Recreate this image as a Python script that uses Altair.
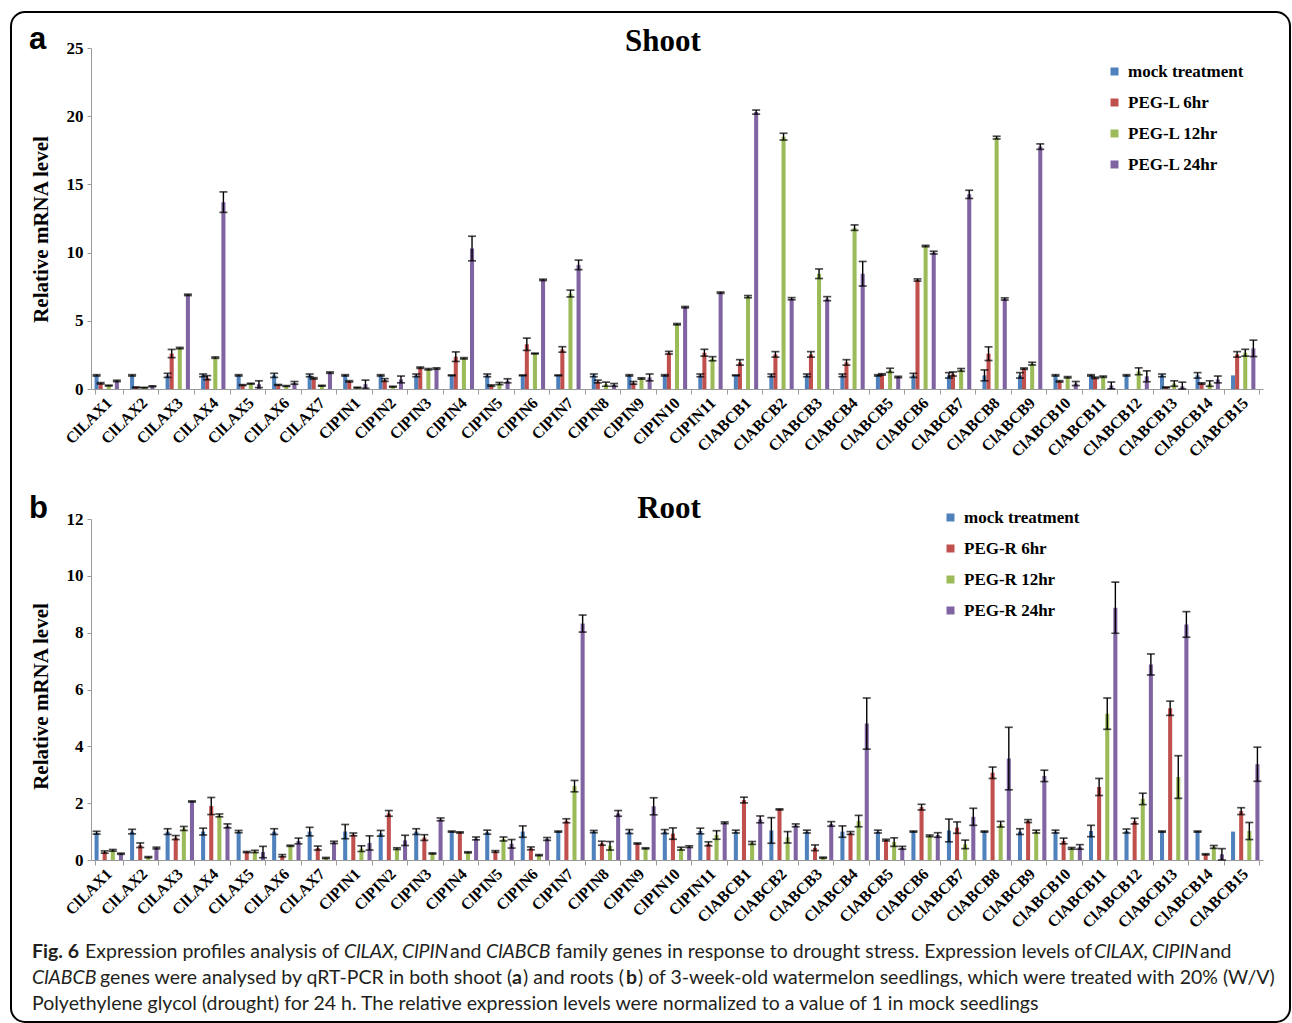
import altair as alt
import pandas as pd

# Gene names on the x axis
genes = [
    "ClLAX1", "ClLAX2", "ClLAX3", "ClLAX4", "ClLAX5", "ClLAX6", "ClLAX7",
    "ClPIN1", "ClPIN2", "ClPIN3", "ClPIN4", "ClPIN5", "ClPIN6", "ClPIN7",
    "ClPIN8", "ClPIN9", "ClPIN10", "ClPIN11",
    "ClABCB1", "ClABCB2", "ClABCB3", "ClABCB4", "ClABCB5", "ClABCB6", "ClABCB7",
    "ClABCB8", "ClABCB9", "ClABCB10", "ClABCB11", "ClABCB12", "ClABCB13",
    "ClABCB14", "ClABCB15",
]

shoot_series = ["mock treatment", "PEG-L 6hr", "PEG-L 12hr", "PEG-L 24hr"]
root_series = ["mock treatment", "PEG-R 6hr", "PEG-R 12hr", "PEG-R 24hr"]
colors = ["#4F81BD", "#C0504D", "#9BBB59", "#8064A2"]

# ---- Shoot (a): relative mRNA level and error ----
shoot_mock = [1.0] * 33
shoot_mock_err = [0.05, 0.05, 0.15, 0.1, 0.05, 0.15, 0.1, 0.05, 0.05, 0.1, 0.03,
                  0.1, 0.03, 0.03, 0.1, 0.05, 0.05, 0.1, 0.03, 0.1, 0.1, 0.1,
                  0.05, 0.15, 0.2, 0.4, 0.2, 0.05, 0.05, 0.05, 0.1, 0.2, 0.0]
shoot_6h = [0.42, 0.12, 2.6, 0.83, 0.29, 0.3, 0.78, 0.56, 0.66, 1.56, 2.37,
            0.25, 3.28, 2.9, 0.55, 0.45, 2.66, 2.66, 1.95, 2.54, 2.54, 1.95,
            1.07, 7.99, 1.1, 2.59, 1.49, 0.56, 0.82, 0.0, 0.12, 0.4, 2.54]
shoot_6h_err = [0.05, 0.03, 0.3, 0.15, 0.03, 0.03, 0.05, 0.05, 0.1, 0.05, 0.35,
                0.05, 0.45, 0.2, 0.1, 0.1, 0.1, 0.25, 0.2, 0.2, 0.2, 0.2,
                0.05, 0.08, 0.15, 0.5, 0.05, 0.05, 0.05, 0.0, 0.03, 0.05, 0.2]
shoot_12h = [0.25, 0.1, 3.0, 2.3, 0.39, 0.22, 0.24, 0.1, 0.17, 1.45, 2.25,
             0.4, 2.6, 7.0, 0.35, 0.77, 4.75, 2.22, 6.77, 18.5, 8.45, 11.83,
             1.37, 10.48, 1.4, 18.43, 1.86, 0.86, 0.9, 1.3, 0.4, 0.4, 2.66]
shoot_12h_err = [0.03, 0.02, 0.05, 0.05, 0.03, 0.03, 0.03, 0.03, 0.03, 0.05, 0.05,
                 0.08, 0.03, 0.25, 0.15, 0.05, 0.05, 0.15, 0.08, 0.25, 0.35, 0.2,
                 0.15, 0.05, 0.1, 0.1, 0.1, 0.05, 0.05, 0.25, 0.2, 0.2, 0.25]
shoot_24h = [0.59, 0.2, 6.9, 13.7, 0.35, 0.45, 1.2, 0.35, 0.7, 1.5, 10.3,
             0.6, 8.0, 9.1, 0.3, 0.85, 6.0, 7.06, 20.3, 6.62, 6.62, 8.45,
             0.88, 10.0, 14.27, 6.6, 17.77, 0.4, 0.26, 0.93, 0.2, 0.7, 2.98]
shoot_24h_err = [0.05, 0.03, 0.05, 0.75, 0.25, 0.1, 0.05, 0.3, 0.25, 0.05, 0.9,
                 0.15, 0.05, 0.35, 0.1, 0.25, 0.05, 0.05, 0.15, 0.08, 0.15, 0.9,
                 0.05, 0.1, 0.3, 0.08, 0.2, 0.15, 0.25, 0.4, 0.3, 0.25, 0.6]

# ---- Root (b): relative mRNA level and error ----
root_mock = [0.96, 1.0, 1.0, 1.0, 1.0, 1.0, 1.0, 1.0, 0.94, 1.0, 1.0,
             0.98, 1.0, 1.0, 1.0, 1.0, 1.0, 1.02, 1.0, 1.04, 1.0, 1.0,
             1.0, 1.0, 1.04, 1.0, 1.0, 1.0, 1.02, 1.02, 1.0, 1.0, 1.0]
root_mock_err = [0.05, 0.08, 0.1, 0.12, 0.04, 0.1, 0.15, 0.25, 0.1, 0.1, 0.02,
                 0.07, 0.2, 0.02, 0.04, 0.07, 0.07, 0.1, 0.05, 0.45, 0.05, 0.2,
                 0.05, 0.02, 0.4, 0.02, 0.1, 0.05, 0.2, 0.07, 0.02, 0.02, 0.0]
root_6h = [0.28, 0.52, 0.79, 1.9, 0.28, 0.15, 0.42, 0.9, 1.64, 0.79, 0.97,
           0.3, 0.41, 1.38, 0.59, 0.58, 0.93, 0.57, 2.11, 1.78, 0.43, 0.95,
           0.7, 1.86, 1.14, 3.07, 1.37, 0.67, 2.57, 1.37, 5.34, 0.2, 1.72]
root_6h_err = [0.04, 0.08, 0.07, 0.3, 0.02, 0.04, 0.07, 0.05, 0.1, 0.1, 0.02,
               0.03, 0.05, 0.07, 0.07, 0.02, 0.2, 0.07, 0.1, 0.02, 0.1, 0.05,
               0.03, 0.1, 0.2, 0.2, 0.05, 0.1, 0.3, 0.1, 0.25, 0.02, 0.12]
root_12h = [0.34, 0.1, 1.11, 1.57, 0.3, 0.5, 0.07, 0.4, 0.4, 0.23, 0.27,
            0.74, 0.17, 2.6, 0.5, 0.41, 0.4, 0.88, 0.6, 0.8, 0.08, 1.37,
            0.63, 0.85, 0.55, 1.26, 1.0, 0.41, 5.15, 2.15, 2.92, 0.46, 1.02]
root_12h_err = [0.03, 0.02, 0.07, 0.05, 0.04, 0.02, 0.02, 0.1, 0.03, 0.02, 0.02,
                0.07, 0.02, 0.2, 0.15, 0.02, 0.05, 0.15, 0.05, 0.2, 0.02, 0.2,
                0.15, 0.03, 0.15, 0.1, 0.05, 0.03, 0.55, 0.2, 0.75, 0.05, 0.3]
root_24h = [0.22, 0.42, 2.06, 1.2, 0.28, 0.67, 0.62, 0.6, 0.69, 1.43, 0.76,
            0.57, 0.74, 8.32, 1.64, 1.89, 0.47, 1.31, 1.43, 1.22, 1.27, 4.8,
            0.43, 0.88, 1.52, 3.57, 2.96, 0.46, 8.88, 6.88, 8.29, 0.2, 3.37]
root_24h_err = [0.02, 0.03, 0.02, 0.07, 0.2, 0.1, 0.04, 0.25, 0.18, 0.05, 0.05,
                0.15, 0.05, 0.3, 0.1, 0.3, 0.03, 0.03, 0.12, 0.05, 0.08, 0.9,
                0.05, 0.08, 0.3, 1.1, 0.2, 0.08, 0.9, 0.37, 0.45, 0.2, 0.6]

# Figure caption, split into styled runs: (text, style, x, y) in page pixels
caption_runs = [
    ("Fig. 6", "bold", 31, 957),
    ("Expression profiles analysis of", "normal", 84, 957),
    ("ClLAX,", "italic", 343, 957),
    ("ClPIN", "italic", 401, 957),
    ("and", "normal", 449, 957),
    ("ClABCB", "italic", 485, 957),
    ("family genes in response to drought stress. Expression levels of", "normal", 555, 957),
    ("ClLAX,", "italic", 1093, 957),
    ("ClPIN", "italic", 1151, 957),
    ("and", "normal", 1199, 957),
    ("ClABCB", "italic", 31, 983),
    ("genes were analysed by qRT-PCR in both shoot (", "normal", 99, 983),
    ("a", "bold", 511, 983),
    (") and roots (", "normal", 522, 983),
    ("b", "bold", 625, 983),
    (") of 3-week-old watermelon seedlings, which were treated with 20% (W/V)", "normal", 637, 983),
    ("Polyethylene glycol (drought) for 24 h. The relative expression levels were "
     "normalized to a value of 1 in mock seedlings", "normal", 31, 1009),
]

SERIF = "Liberation Serif"
PLOT_W, PLOT_H = 1172, 341
LEFT, TOP_A = 90, 47
SPACING = 130
TOP_B = TOP_A + PLOT_H + SPACING
TOP_C = TOP_B + PLOT_H + SPACING


def long_table(series, values, errors):
    rows = []
    for s, vals, errs in zip(series, values, errors):
        for g, v, e in zip(genes, vals, errs):
            rows.append({"gene": g, "series": s, "value": v, "err": e})
    return pd.DataFrame(rows)


def panel(df, series, ymax, ystep, title_y, legend_x, legend_y,
          heading, heading_x, heading_y, letter, letter_y):
    x_axis = alt.Axis(
        title=None, labelAngle=-45, labelAlign="right", labelBaseline="middle",
        labelFont=SERIF, labelFontWeight="bold", labelFontSize=16,
        labelColor="black", labelPadding=6, tickBand="extent",
        domainColor="#9a9a9a", tickColor="#9a9a9a", tickSize=5,
    )
    y_axis = alt.Axis(
        values=list(range(0, ymax + 1, ystep)), grid=False,
        labelFont=SERIF, labelFontWeight="bold", labelFontSize=17,
        labelColor="black", labelPadding=4,
        domainColor="#9a9a9a", tickColor="#9a9a9a", tickSize=4,
        title="Relative mRNA level", titleFont=SERIF, titleFontWeight="bold",
        titleFontSize=21, titleColor="black", titleX=-44, titleY=title_y,
        titleBaseline="alphabetic", titleAngle=-90,
    )
    x = alt.X("gene:N", sort=genes, axis=x_axis,
              scale=alt.Scale(paddingInner=0.2, paddingOuter=0.1))
    xo = alt.XOffset("series:N", sort=series,
                     scale=alt.Scale(paddingInner=0, paddingOuter=0))
    yscale = alt.Scale(domain=[0, ymax], nice=False)

    base = alt.Chart(df)
    bars = base.mark_bar().encode(
        x=x, xOffset=xo,
        y=alt.Y("value:Q", scale=yscale, axis=y_axis),
        color=alt.Color(
            "series:N", sort=series,
            scale=alt.Scale(domain=series, range=colors),
            legend=alt.Legend(
                orient="none", legendX=legend_x, legendY=legend_y, title=None,
                symbolType="square", symbolSize=64, symbolStrokeWidth=0,
                labelFont=SERIF, labelFontWeight="bold", labelFontSize=17,
                labelColor="black", rowPadding=13, labelOffset=5,
            ),
        ),
    )
    errs = base.transform_filter("datum.err > 0").transform_calculate(
        lo="max(0, datum.value - datum.err)", hi="datum.value + datum.err"
    )
    stems = errs.mark_rule(color="black", strokeWidth=1.4).encode(
        x=x, xOffset=xo,
        y=alt.Y("lo:Q", scale=yscale, axis=y_axis), y2="hi:Q",
    )
    caps_lo = errs.mark_tick(color="black", size=8, thickness=1.7).encode(
        x=x, xOffset=xo, y=alt.Y("lo:Q", scale=yscale, axis=y_axis),
    )
    caps_hi = errs.mark_tick(color="black", size=8, thickness=1.7).encode(
        x=x, xOffset=xo, y=alt.Y("hi:Q", scale=yscale, axis=y_axis),
    )
    head = alt.Chart(pd.DataFrame({"t": [heading]})).mark_text(
        font=SERIF, fontWeight="bold", fontSize=31, align="center",
        baseline="alphabetic", color="black",
    ).encode(text="t:N", x=alt.value(heading_x), y=alt.value(heading_y))
    tag = alt.Chart(pd.DataFrame({"t": [letter]})).mark_text(
        font="Liberation Sans", fontWeight="bold", fontSize=31, align="left",
        baseline="alphabetic", color="black",
    ).encode(text="t:N", x=alt.value(28 - LEFT), y=alt.value(letter_y))
    return [bars, stems, caps_lo, caps_hi, head, tag]


shoot_df = long_table(
    shoot_series,
    [shoot_mock, shoot_6h, shoot_12h, shoot_24h],
    [shoot_mock_err, shoot_6h_err, shoot_12h_err, shoot_24h_err],
)
root_df = long_table(
    root_series,
    [root_mock, root_6h, root_12h, root_24h],
    [root_mock_err, root_6h_err, root_12h_err, root_24h_err],
)

# rounded frame around the whole figure
frame = alt.Chart(pd.DataFrame({"k": [0]})).mark_rect(
    fill="white", fillOpacity=0, stroke="black", strokeWidth=2, cornerRadius=14,
).encode(
    x=alt.value(10 - LEFT), x2=alt.value(1289 - LEFT),
    y=alt.value(11 - TOP_A), y2=alt.value(1021 - TOP_A),
)

layers_a = panel(shoot_df, shoot_series, 25, 5, 181, 1015, 15,
                 "Shoot", 662 - LEFT, 50 - TOP_A, "a", 48 - TOP_A)
chart_a = alt.layer(frame, *layers_a).properties(width=PLOT_W, height=PLOT_H)

layers_b = panel(root_df, root_series, 12, 2, 177, 851, -10,
                 "Root", 668 - LEFT, 517 - TOP_B, "b", 517 - TOP_B)
chart_b = alt.layer(*layers_b).properties(width=PLOT_W, height=PLOT_H)

cap_df = pd.DataFrame(
    [{"text": t, "style": s, "x": x - LEFT, "y": y - TOP_C}
     for t, s, x, y in caption_runs]
)
cap_base = alt.Chart(cap_df)
cap_enc = dict(
    x=alt.X("x:Q", scale=None, axis=None),
    y=alt.Y("y:Q", scale=None, axis=None),
    text="text:N",
)
CAP_FONT = "Lato"
CAP_SIZE = 19.5
CAP_COLOR = "#231f20"
cap_normal = cap_base.transform_filter("datum.style == 'normal'").mark_text(
    font=CAP_FONT, fontSize=CAP_SIZE, align="left", baseline="alphabetic",
    color=CAP_COLOR,
).encode(**cap_enc)
cap_italic = cap_base.transform_filter("datum.style == 'italic'").mark_text(
    font=CAP_FONT, fontSize=CAP_SIZE, fontStyle="italic", align="left",
    baseline="alphabetic", color=CAP_COLOR,
).encode(**cap_enc)
cap_bold = cap_base.transform_filter("datum.style == 'bold'").mark_text(
    font=CAP_FONT, fontSize=CAP_SIZE, fontWeight="bold", align="left",
    baseline="alphabetic", color=CAP_COLOR,
).encode(**cap_enc)
chart_c = alt.layer(cap_normal, cap_italic, cap_bold).properties(width=PLOT_W, height=1)

chart = alt.vconcat(
    chart_a, chart_b, chart_c, spacing=SPACING, bounds="flush"
).properties(
    padding={"left": 9, "top": 10, "right": 0, "bottom": 0},
).resolve_scale(
    color="independent", x="independent", y="independent",
).configure_view(stroke="transparent")

chart.save("out.html", embed_options={"renderer": "svg", "actions": False})
